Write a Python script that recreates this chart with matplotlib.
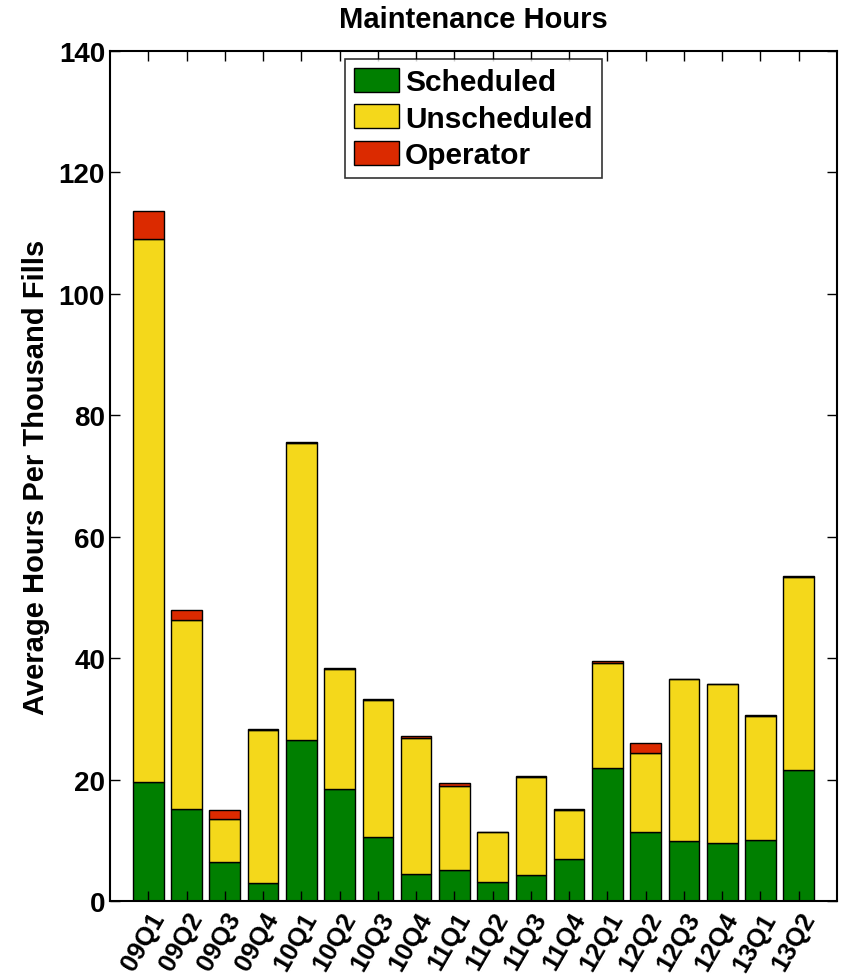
import numpy as np
import matplotlib
matplotlib.use("Agg")
import matplotlib.pyplot as plt

#Data
quarters = ["09Q1", "09Q2", "09Q3", "09Q4", "10Q1", "10Q2", "10Q3", "10Q4", "11Q1",
            "11Q2", "11Q3", "11Q4", "12Q1", "12Q2", "12Q3", "12Q4", "13Q1", "13Q2"]
scheduled = [19.6, 15.2, 6.4, 3.0, 26.5, 18.5, 10.6, 4.5, 5.1,
             3.2, 4.3, 6.9, 21.9, 11.4, 9.9, 9.5, 10.1, 21.5]
unscheduled = [89.4, 31.0, 7.1, 25.2, 48.9, 19.7, 22.5, 22.4, 13.9,
               8.1, 16.1, 8.0, 17.3, 13.0, 26.6, 26.2, 20.4, 31.9]
operator = [4.7, 1.8, 1.4, 0.1, 0.2, 0.2, 0.1, 0.2, 0.5,
            0.1, 0.1, 0.3, 0.3, 1.6, 0.1, 0.1, 0.1, 0.1]

plt.rcParams['font.family'] = ['Liberation Sans', 'DejaVu Sans']
plt.rcParams['font.weight'] = 'bold'

fig = plt.figure(figsize=(8.44, 9.79), dpi=100)
ax = fig.add_axes([0.1303, 0.0787, 0.8614, 0.8683])

x = np.arange(1, len(quarters) + 1)
w = 0.8
sch = np.array(scheduled)
uns = np.array(unscheduled)
opr = np.array(operator)
ax.bar(x, sch, w, color='#007F00', edgecolor='black', linewidth=1.0, label='Scheduled')
ax.bar(x, uns, w, bottom=sch, color='#F4D81B', edgecolor='black', linewidth=1.0, label='Unscheduled')
ax.bar(x, opr, w, bottom=sch + uns, color='#DB2A00', edgecolor='black', linewidth=1.0, label='Operator')

ax.set_xlim(0, 19)
ax.set_ylim(0, 140)
ax.set_yticks(np.arange(0, 141, 20))
ax.set_xticks(x)
ax.set_xticklabels(quarters, rotation=60, ha='right', va='top', rotation_mode='anchor',
                   fontsize=18.5, fontweight='bold')
ax.tick_params(axis='y', labelsize=20)
for lab in ax.get_yticklabels():
    lab.set_fontweight('bold')
ax.tick_params(direction='in', length=7, width=1, top=True, right=True)
ax.tick_params(axis='x', pad=5)
for sp in ax.spines.values():
    sp.set_linewidth(1.5)

ax.set_title('Maintenance Hours', fontsize=21, fontweight='bold', pad=17)
ax.set_ylabel('Average Hours Per Thousand Fills', fontsize=21, fontweight='bold', labelpad=6)

leg = ax.legend(loc='upper center', bbox_to_anchor=(0.5, 0.9906), borderaxespad=0,
                fontsize=21.5, frameon=True, fancybox=False, edgecolor='black',
                handlelength=1.5, handleheight=0.85, handletextpad=0.2,
                borderpad=0.3, labelspacing=0.28)
leg.get_frame().set_linewidth(1.2)
for t in leg.get_texts():
    t.set_fontweight('bold')

fig.savefig('out.png', dpi=100)
plt.close()
